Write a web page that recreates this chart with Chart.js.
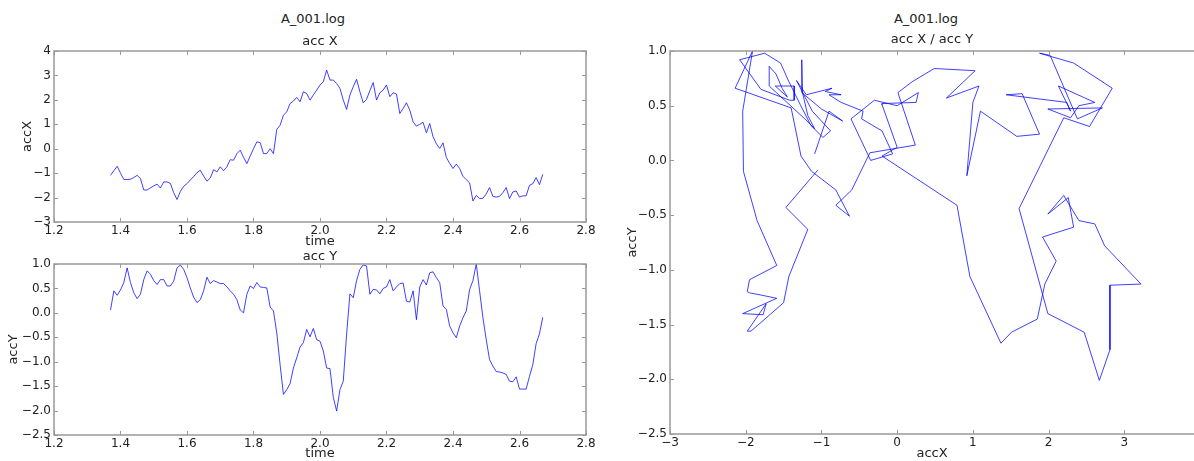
<!DOCTYPE html>
<html>
<head>
<meta charset="utf-8">
<script src="https://cdn.jsdelivr.net/npm/chart.js@4/dist/chart.umd.min.js"></script>
<style>
  html, body { margin: 0; padding: 0; background: #fff; }
  body { position: relative; width: 1194px; height: 461px; overflow: hidden; font-family: 'DejaVu Sans', sans-serif; }
  canvas { position: absolute; }
  .sup { position: absolute; transform: translate(-50%, -50%); font-size: 13px; color: #222; white-space: nowrap; }
</style>
</head>
<body>
<div class="sup" style="left:313px; top:18px;">A_001.log</div>
<div class="sup" style="left:926px; top:18px;">A_001.log</div>
<canvas id="accXChart" width="600" height="252" style="left:0; top:0;"></canvas>
<canvas id="accYChart" width="600" height="231" style="left:0; top:230px;"></canvas>
<canvas id="xyChart" width="574" height="461" style="left:620px; top:0;"></canvas>
<script>
// 時間軸 (秒)
const time = [
  1.37,1.38,1.39,1.40,1.41,1.42,1.43,1.44,1.45,1.46,1.47,1.48,1.49,1.50,1.51,1.52,1.53,1.54,1.55,1.56,
  1.57,1.58,1.59,1.60,1.61,1.62,1.63,1.64,1.65,1.66,1.67,1.68,1.69,1.70,1.71,1.72,1.73,1.74,1.75,1.76,
  1.77,1.78,1.79,1.80,1.81,1.82,1.83,1.84,1.85,1.86,1.87,1.88,1.89,1.90,1.91,1.92,1.93,1.94,1.95,1.96,
  1.97,1.98,1.99,2.00,2.01,2.02,2.03,2.04,2.05,2.06,2.07,2.08,2.09,2.10,2.11,2.12,2.13,2.14,2.15,2.16,
  2.17,2.18,2.19,2.20,2.21,2.22,2.23,2.24,2.25,2.26,2.27,2.28,2.29,2.30,2.31,2.32,2.33,2.34,2.35,2.36,
  2.37,2.38,2.39,2.40,2.41,2.42,2.43,2.44,2.45,2.46,2.47,2.48,2.49,2.50,2.51,2.52,2.53,2.54,2.55,2.56,
  2.57,2.58,2.59,2.60,2.61,2.62,2.63,2.64,2.65,2.66,2.67
];

const accX = [
  -1.09,-0.9,-0.72,-1.0,-1.26,-1.26,-1.25,-1.18,-1.09,-1.22,
  -1.69,-1.69,-1.6,-1.52,-1.45,-1.61,-1.36,-1.36,-1.42,-1.8,
  -2.08,-1.75,-1.54,-1.43,-1.28,-1.14,-0.98,-0.88,-1.12,-1.33,
  -1.2,-0.86,-0.95,-0.74,-0.9,-0.74,-0.45,-0.47,-0.2,-0.06,
  -0.35,-0.61,-0.3,0.0,0.28,0.25,-0.2,-0.2,0.0,-0.2,
  0.79,0.96,1.37,1.51,1.85,1.95,2.1,1.92,2.33,2.26,
  1.99,2.2,2.4,2.61,2.74,3.22,2.81,2.81,2.67,2.47,
  1.99,1.61,2.2,2.54,2.84,2.33,1.88,2.02,2.38,2.71,
  1.99,2.29,2.4,2.61,2.13,2.29,2.24,1.44,1.65,1.88,
  1.58,1.1,0.92,1.0,1.08,0.65,1.03,0.49,0.2,0.01,
  0.24,-0.36,-0.6,-0.81,-0.63,-0.81,-1.13,-1.27,-1.4,-2.14,
  -1.91,-2.04,-2.03,-1.85,-1.59,-1.95,-1.98,-1.95,-1.8,-1.59,
  -2.04,-1.77,-1.73,-1.98,-1.93,-1.93,-1.5,-1.43,-1.18,-1.47,
  -1.05
];

const accY = [
  0.06,0.45,0.36,0.47,0.62,0.92,0.62,0.41,0.29,0.38,
  0.68,0.86,0.79,0.66,0.58,0.68,0.68,0.55,0.55,0.65,
  0.92,0.98,0.89,0.72,0.51,0.32,0.21,0.27,0.45,0.73,
  0.6,0.66,0.63,0.6,0.6,0.53,0.45,0.38,0.27,0.06,
  0.0,0.38,0.55,0.5,0.62,0.53,0.52,0.51,0.12,0.04,
  -0.41,-1.06,-1.67,-1.57,-1.45,-1.13,-0.92,-0.7,-0.61,-0.34,
  -0.49,-0.32,-0.55,-0.58,-0.78,-1.13,-1.14,-1.73,-2.01,-1.57,
  -1.4,-0.44,0.39,0.31,0.66,0.89,0.98,0.96,0.38,0.48,
  0.47,0.39,0.5,0.53,0.68,0.45,0.53,0.6,0.61,0.24,
  0.22,0.45,-0.14,0.53,0.68,0.57,0.82,0.84,0.72,0.62,
  0.14,0.07,-0.27,-0.41,-0.51,-0.27,-0.1,0.04,0.48,0.66,
  1.0,0.45,-0.1,-0.55,-0.96,-1.09,-1.2,-1.21,-1.23,-1.26,
  -1.4,-1.41,-1.31,-1.56,-1.56,-1.56,-1.3,-1.06,-0.63,-0.43,
  -0.09
];

const FONT = 'DejaVu Sans';
const TEXT = '#222';
const LINE = 'rgba(0,0,255,0.75)';

// matplotlib 風格的負號
function fmt(dec) {
  return function(v) {
    const s = Number(v).toFixed(dec);
    return s.replace('-', '\u2212');
  };
}

// 外框與向內刻度 (右圖的右框在畫面外, 不畫)
const frameTicks = {
  id: 'frameTicks',
  afterDraw(chart, args, opts) {
    const {ctx, chartArea: a, scales} = chart;
    ctx.save();
    ctx.strokeStyle = '#999';
    ctx.lineWidth = 1;
    ctx.beginPath();
    scales.x.ticks.forEach(t => {
      const px = Math.round(scales.x.getPixelForValue(t.value)) + 0.5;
      ctx.moveTo(px, a.bottom); ctx.lineTo(px, a.bottom - 4);
      ctx.moveTo(px, a.top); ctx.lineTo(px, a.top + 4);
    });
    scales.y.ticks.forEach(t => {
      const py = Math.round(scales.y.getPixelForValue(t.value)) + 0.5;
      ctx.moveTo(a.left, py); ctx.lineTo(a.left + 4, py);
      if (!opts.open) { ctx.moveTo(a.right, py); ctx.lineTo(a.right - 4, py); }
    });
    ctx.stroke();
    ctx.lineWidth = 1.5;
    ctx.beginPath();
    if (opts.open) {
      ctx.moveTo(a.right + 2, a.top); ctx.lineTo(a.left, a.top);
      ctx.lineTo(a.left, a.bottom); ctx.lineTo(a.right + 2, a.bottom);
    } else {
      ctx.rect(a.left, a.top, a.right - a.left, a.bottom - a.top);
    }
    ctx.stroke();
    ctx.restore();
  }
};

function axis(opts) {
  return {
    type: 'linear',
    min: opts.min,
    max: opts.max,
    afterFit: opts.fit,
    grid: { display: false, drawTicks: false },
    border: { display: false },
    ticks: {
      stepSize: opts.step,
      includeBounds: false,
      autoSkip: false,
      maxRotation: 0,
      padding: opts.pad,
      color: TEXT,
      font: { family: FONT, size: 12 },
      callback: fmt(opts.dec)
    },
    title: {
      display: true,
      text: opts.title,
      color: TEXT,
      font: { family: FONT, size: 13 },
      padding: opts.titlePad
    }
  };
}

function baseOptions(title, titlePad, padRight) {
  return {
    responsive: false,
    animation: false,
    events: [],
    layout: { autoPadding: false, padding: { left: 0, right: padRight, top: 0, bottom: 0 } },
    plugins: {
      legend: { display: false },
      tooltip: { enabled: false },
      frameTicks: { open: false },
      title: {
        display: true,
        text: title,
        fullSize: false,
        color: TEXT,
        font: { family: FONT, size: 13, weight: 'normal' },
        padding: titlePad
      }
    }
  };
}

// acc X
const optX = baseOptions('acc X', { top: 34.2, bottom: 1.2 }, 14);
optX.scales = {
  x: axis({ min: 1.2, max: 2.8, step: 0.2, dec: 1, pad: 2, title: 'time',
            titlePad: { top: 0, bottom: 3 }, fit: s => { s.height = 30; } }),
  y: axis({ min: -3, max: 4, step: 1, dec: 0, pad: 3, title: 'accX',
            titlePad: { top: 20, bottom: 0 }, fit: s => { s.width = 54; } })
};
new Chart(document.getElementById('accXChart'), {
  type: 'line',
  data: { labels: time, datasets: [{ data: accX, borderColor: LINE, borderWidth: 1, pointRadius: 0, tension: 0, fill: false }] },
  options: optX,
  plugins: [frameTicks]
});

// acc Y
const optY = baseOptions('acc Y', { top: 18.4, bottom: 0 }, 14);
optY.scales = {
  x: axis({ min: 1.2, max: 2.8, step: 0.2, dec: 1, pad: 2, title: 'time',
            titlePad: { top: 0, bottom: 0 }, fit: s => { s.height = 26; } }),
  y: axis({ min: -2.5, max: 1.0, step: 0.5, dec: 1, pad: 3, title: 'accY',
            titlePad: { top: 6, bottom: 0 }, fit: s => { s.width = 54; } })
};
new Chart(document.getElementById('accYChart'), {
  type: 'line',
  data: { labels: time, datasets: [{ data: accY, borderColor: LINE, borderWidth: 1, pointRadius: 0, tension: 0, fill: false }] },
  options: optY,
  plugins: [frameTicks]
});

// acc X / acc Y : x 軸在視窗右緣截斷 (約 3.92)
const xyPoints = accX.map((v, i) => ({ x: v, y: accY[i] }));
const optXY = baseOptions('acc X / acc Y', { top: 32.2, bottom: 3.2 }, 0);
optXY.plugins.frameTicks = { open: true };
optXY.scales = {
  x: axis({ min: -3, max: 3.92, step: 1, dec: 0, pad: 2, title: 'accX',
            titlePad: { top: 0, bottom: 0 }, fit: s => { s.height = 27; } }),
  y: axis({ min: -2.5, max: 1.0, step: 0.5, dec: 1, pad: 3, title: 'accY',
            titlePad: { top: 5, bottom: 0 }, fit: s => { s.width = 50; } })
};
new Chart(document.getElementById('xyChart'), {
  type: 'scatter',
  data: { datasets: [{ data: xyPoints, showLine: true, borderColor: LINE, borderWidth: 1, pointRadius: 0, tension: 0, fill: false }] },
  options: optXY,
  plugins: [frameTicks]
});
</script>
</body>
</html>
